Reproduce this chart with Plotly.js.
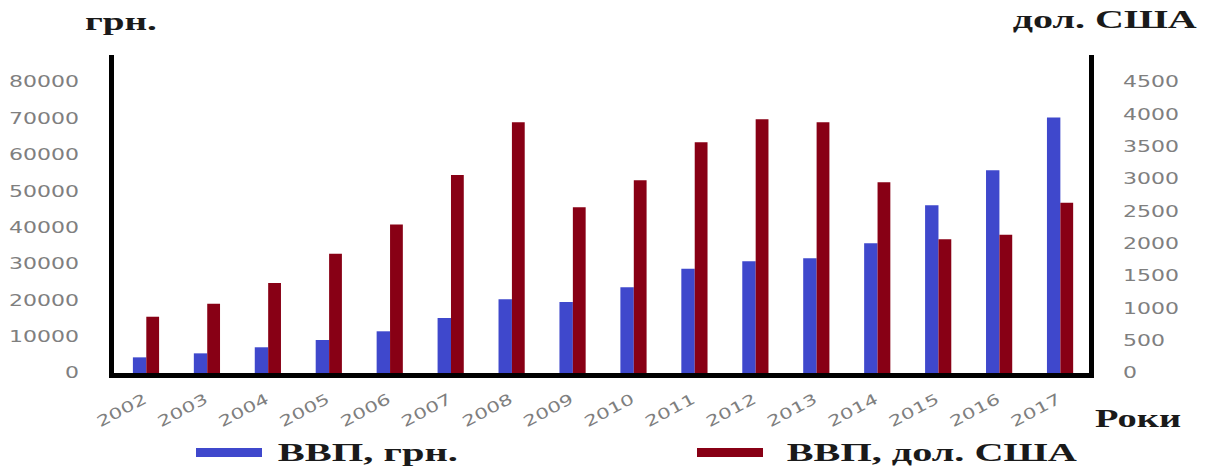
<!DOCTYPE html>
<html>
<head>
<meta charset="utf-8">
<script src="https://cdn.plot.ly/plotly-3.0.1.min.js"></script>
<style>
  html, body { margin: 0; padding: 0; background: #fff; }
  #chart { width: 1210px; height: 468px; }
</style>
</head>
<body>
<div id="chart"></div>
<script>
// ---- data ----
const years = ['2002','2003','2004','2005','2006','2007','2008','2009','2010','2011','2012','2013','2014','2015','2016','2017'];
const gdpUah = [4300, 5400, 7070, 9070, 11460, 15120, 20250, 19500, 23550, 28680, 30700, 31520, 35640, 46100, 55700, 70200];
const gdpUsd = [870, 1072, 1392, 1845, 2294, 3062, 3876, 2562, 2980, 3567, 3923, 3876, 2949, 2067, 2139, 2633];
const seriesNames = ['ВВП, грн.', 'ВВП, дол. США'];
const leftTicks = [0, 10000, 20000, 30000, 40000, 50000, 60000, 70000, 80000];
const rightTicks = [0, 500, 1000, 1500, 2000, 2500, 3000, 3500, 4000, 4500];
const leftUnit = 'грн.';
const rightUnit = 'дол. США';
const xUnit = 'Роки';

// ---- style ----
const BLUE = '#3F48CC';
const RED = '#880015';
const TICK_GRAY = '#7f7f7f';
const TEXT_DARK = '#1a1a1a';
const SERIF = '"Liberation Serif", "Times New Roman", serif';
const SANS = '"DejaVu Sans", Verdana, sans-serif';
const STRETCH = 1.42; // horizontal stretch of the reference text

const W = 1210, H = 468;
const L = 114, R = 1089, T = 55, B = 373;
const px = x => (x - L) / (R - L);
const py = y => (B - y) / (B - T);

const traces = [
  { type: 'bar', x: years, y: gdpUah, name: seriesNames[0], marker: { color: BLUE },
    width: 0.22, offset: -0.19, yaxis: 'y', showlegend: false, hoverinfo: 'x+y' },
  { type: 'bar', x: years, y: gdpUsd, name: seriesNames[1], marker: { color: RED },
    width: 0.21, offset: 0.03, yaxis: 'y2', showlegend: false, hoverinfo: 'x+y' }
];

const serifFont = { family: SERIF, size: 26, color: TEXT_DARK, weight: 'bold' };

// target text boxes (centre x, centre y, width) for titles and legend labels
const labelBoxes = [
  { text: leftUnit,       cx: 121,  cy: 22,  w: 72 },
  { text: rightUnit,      cx: 1105, cy: 20,  w: 184 },
  { text: xUnit,          cx: 1138, cy: 418, w: 86 },
  { text: seriesNames[0], cx: 368,  cy: 452, w: 180 },
  { text: seriesNames[1], cx: 932,  cy: 452, w: 290 }
];

const layout = {
  width: W, height: H,
  margin: { l: L, r: W - R, t: T, b: H - B, pad: 0 },
  paper_bgcolor: '#ffffff', plot_bgcolor: '#ffffff',
  showlegend: false,
  barmode: 'overlay',
  xaxis: {
    type: 'category',
    showgrid: false, zeroline: false,
    showline: true, linecolor: '#000', linewidth: 5,
    ticks: '', tickangle: -28,
    ticklabelstandoff: 7,
    tickfont: { family: SANS, size: 15, color: TICK_GRAY }
  },
  yaxis: {
    range: [0, 87400],
    tickvals: leftTicks,
    ticktext: leftTicks.map(String),
    showgrid: false, zeroline: false,
    showline: true, linecolor: '#000', linewidth: 5,
    ticks: '', ticklabelstandoff: 27,
    tickfont: { family: SANS, size: 15.5, color: TICK_GRAY }
  },
  yaxis2: {
    overlaying: 'y', side: 'right',
    range: [0, 87400 * 4500 / 80000],
    tickvals: rightTicks,
    ticktext: rightTicks.map(String),
    showgrid: false, zeroline: false,
    showline: true, linecolor: '#000', linewidth: 5,
    ticks: '', ticklabelstandoff: 26,
    tickfont: { family: SANS, size: 15.5, color: TICK_GRAY }
  },
  annotations: labelBoxes.map(b => ({
    xref: 'paper', yref: 'paper', x: px(b.cx), y: py(b.cy),
    xanchor: 'center', yanchor: 'middle',
    text: b.text, showarrow: false, font: serifFont
  })),
  shapes: [
    { type: 'rect', xref: 'paper', yref: 'paper', x0: px(196), x1: px(262), y0: py(457), y1: py(448),
      fillcolor: BLUE, line: { width: 0 } },
    { type: 'rect', xref: 'paper', yref: 'paper', x0: px(697), x1: px(763), y0: py(457), y1: py(448),
      fillcolor: RED, line: { width: 0 } }
  ]
};

Plotly.newPlot('chart', traces, layout, { displayModeBar: false, staticPlot: true }).then(gd => {
  // widen tick labels like the reference (real text, stretched glyphs)
  gd.querySelectorAll('.xtick text, .ytick text, .y2tick text').forEach(t => {
    const len = t.getComputedTextLength();
    t.setAttribute('textLength', (len * STRETCH).toFixed(1));
    t.setAttribute('lengthAdjust', 'spacingAndGlyphs');
  });
  // stretch titles / legend labels to the reference widths
  const anns = gd.querySelectorAll('.annotation-text');
  anns.forEach((t, i) => {
    const b = labelBoxes[i];
    if (!b) return;
    t.setAttribute('textLength', b.w);
    t.setAttribute('lengthAdjust', 'spacingAndGlyphs');
  });
});
</script>
</body>
</html>
